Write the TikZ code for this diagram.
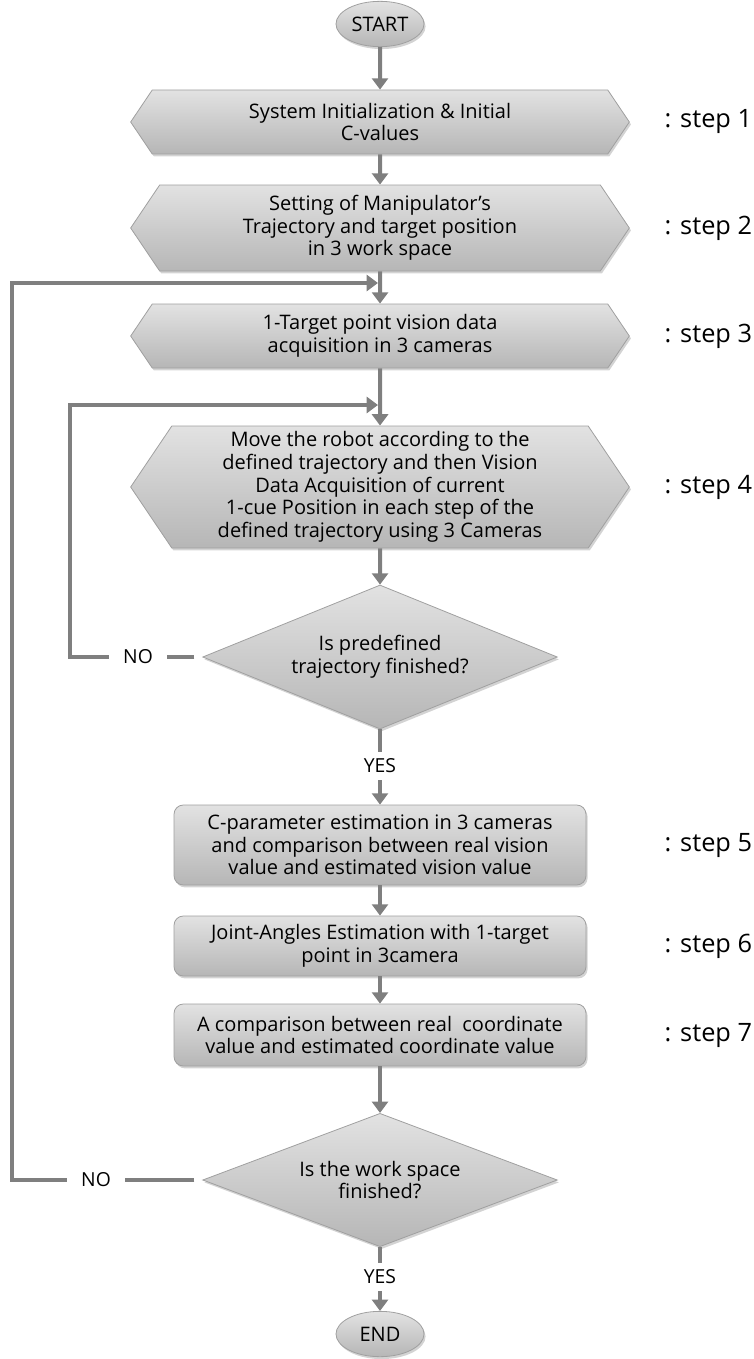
\documentclass[tikz,border=0pt]{standalone}
\usepackage{fontspec}
\setmainfont{Open Sans}
\usetikzlibrary{shapes.geometric,shapes.symbols,shadows,arrows.meta,positioning}

\definecolor{boxtop}{HTML}{E2E2E2}
\definecolor{boxbot}{HTML}{B6B6B6}
\definecolor{boxline}{HTML}{A0A0A0}
\definecolor{flowgray}{HTML}{7F7F7F}

\tikzset{
  base/.style={draw=boxline, line width=0.6pt, top color=boxtop, bottom color=boxbot,
    drop shadow={shadow xshift=1.2pt, shadow yshift=-1.8pt, opacity=0.35},
    align=center, inner sep=0pt, font=\fontsize{15pt}{17pt}\selectfont},
  terminal/.style={base, ellipse, minimum width=66pt, minimum height=34pt},
  hexbox/.style={base, signal, signal to=west and east, signal pointer angle=112, minimum width=374pt},
  procbox/.style={base, rectangle, rounded corners=7pt, minimum width=309pt},
  decision/.style={base, diamond, aspect=2.6, minimum width=266pt},
  flow/.style={draw=flowgray, line width=3pt, -{Triangle[width=12pt,length=8.5pt]}},
  link/.style={draw=flowgray, line width=3pt},
  answer/.style={font=\fontsize{14.5pt}{16pt}\selectfont, fill=white, inner xsep=10.5pt, inner ysep=5pt},
  steplabel/.style={anchor=west, font=\fontsize{19pt}{23pt}\selectfont}
}

\begin{document}
\begin{tikzpicture}[x=0.75pt, y=-0.75pt]
\useasboundingbox (0,0) rectangle (753,1359);

% boxes
\node[terminal] (start) at (380,24) {START};
\node[hexbox, minimum height=48pt] (h1) at (380,122) {System Initialization \& Initial\\C-values};
\node[hexbox, minimum height=64.5pt] (h2) at (380,228) {Setting of Manipulator's\\Trajectory and target position\\in 3 work space};
\node[hexbox, minimum height=48pt] (h3) at (380,336) {1-Target point vision data\\acquisition in 3 cameras};
\node[hexbox, minimum height=91.5pt] (h4) at (380,487) {Move the robot according to the\\defined trajectory and then Vision\\Data Acquisition of current\\1-cue Position in each step of the\\defined trajectory using 3 Cameras};
\node[decision, minimum height=108pt] (d1) at (380,657) {Is predefined\\trajectory finished?};
\node[procbox, minimum height=60pt] (b5) at (380,845) {C-parameter estimation in 3 cameras\\and comparison between real vision\\value and estimated vision value};
\node[procbox, minimum height=45pt] (b6) at (380,946) {Joint-Angles Estimation with 1-target\\point in 3camera};
\node[procbox, minimum height=46.5pt] (b7) at (380,1035) {A comparison between real~ coordinate\\value and estimated coordinate value};
\node[decision, minimum height=100pt] (d2) at (380,1180) {Is the work space\\finished?};
\node[terminal] (end) at (380,1334) {END};

% answers
\node[answer] (yes1) at (380,766) {YES};
\node[answer] (no1) at (138,657) {NO};
\node[answer] (yes2) at (380,1277) {YES};
\node[answer] (no2) at (96,1180) {NO};

% loop corners
\coordinate (c1) at (12,1180);
\coordinate (j1) at (378,283);
\coordinate (c2) at (70,657);
\coordinate (j2) at (378,405);

% steps
\node[steplabel] (s1) at (660,122) {: step 1};
\node[steplabel] (s2) at (660,228) {: step 2};
\node[steplabel] (s3) at (660,336) {: step 3};
\node[steplabel] (s4) at (660,487) {: step 4};
\node[steplabel] (s5) at (660,845) {: step 5};
\node[steplabel] (s6) at (660,946) {: step 6};
\node[steplabel] (s7) at (660,1035) {: step 7};

% connectors
\draw[flow] (start) -- (h1);
\draw[flow] (h1) -- (h2);
\draw[flow] (h2) -- (h3);
\draw[flow] (h3) -- (h4);
\draw[flow] (h4) -- (d1);
\draw[link] (d1.south) -- (yes1.north);
\draw[flow] (yes1) -- (b5);
\draw[flow] (b5) -- (b6);
\draw[flow] (b6) -- (b7);
\draw[flow] (b7) -- (d2);
\draw[link] (d2.south) -- (yes2.north);
\draw[flow] (yes2) -- (end);

\draw[link, shorten <=6pt] (d1.west) -- (no1.east);
\draw[flow] (no1.west) -- (c2) |- (j2);
\draw[link, shorten <=6pt] (d2.west) -- (no2.east);
\draw[flow] (no2.west) -- (c1) |- (j1);
\end{tikzpicture}
\end{document}
